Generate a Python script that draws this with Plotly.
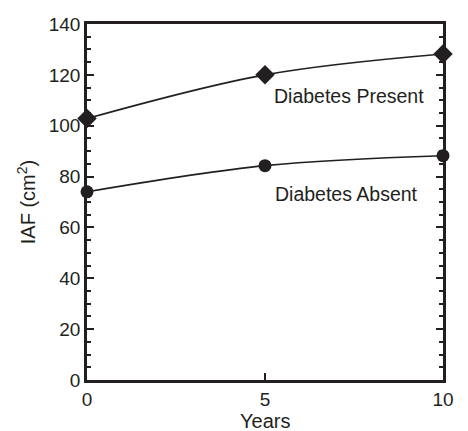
import plotly.graph_objects as go

years = [0, 5, 10]
present = [102.8, 120.0, 128.2]
absent = [74.0, 84.3, 88.2]
labels = ["Diabetes Present", "Diabetes Absent"]
label_pos = [(7.35, 111.5), (7.3, 73.0)]

FONT = "Liberation Sans, Arial, Helvetica, sans-serif"
INK = "#231f20"

fig = go.Figure()
fig.add_trace(go.Scatter(
    x=years, y=present, mode="lines+markers",
    line=dict(color=INK, width=1.6, shape="spline", smoothing=1),
    marker=dict(symbol="diamond", size=15, color=INK),
    cliponaxis=False, showlegend=False))
fig.add_trace(go.Scatter(
    x=years, y=absent, mode="lines+markers",
    line=dict(color=INK, width=1.6, shape="spline", smoothing=1),
    marker=dict(symbol="circle", size=13, color=INK),
    cliponaxis=False, showlegend=False))

for txt, (lx, ly) in zip(labels, label_pos):
    fig.add_annotation(x=lx, y=ly, text=txt, showarrow=False,
                       font=dict(family=FONT, size=19.5, color=INK),
                       xanchor="center", yanchor="middle")

fig.add_annotation(x=0.5, y=0, xref="paper", yref="paper", yshift=-41,
                   text="Years", showarrow=False,
                   font=dict(family=FONT, size=20, color=INK),
                   xanchor="center", yanchor="middle")

# page body adds an 8px offset; margins compensate for it
fig.update_layout(
    width=460, height=423,
    margin=dict(l=79, r=25, t=16, b=51, autoexpand=False),
    paper_bgcolor="white", plot_bgcolor="white",
    font=dict(family=FONT, size=19, color=INK),
    xaxis=dict(range=[0, 10], tickvals=[0, 5, 10],
               ticks="inside", ticklen=7, tickwidth=1.6, tickcolor=INK,
               showline=True, linecolor=INK, linewidth=2.5, mirror=True,
               showgrid=False, zeroline=False, automargin=False,
               tickfont=dict(family=FONT, size=19, color=INK)),
    yaxis=dict(range=[0, 140], tickvals=[0, 20, 40, 60, 80, 100, 120, 140],
               ticks="inside", ticklen=7, tickwidth=1.6, tickcolor=INK,
               minor=dict(dtick=5, ticks="inside", ticklen=4, tickwidth=1.6, tickcolor=INK),
               showline=True, linecolor=INK, linewidth=2.5, mirror="ticks",
               showgrid=False, zeroline=False, automargin=False,
               title=dict(text="IAF (cm<sup>2</sup>)", standoff=8, font=dict(size=20)),
               tickfont=dict(family=FONT, size=19, color=INK)),
)

fig.write_html("out.html")
